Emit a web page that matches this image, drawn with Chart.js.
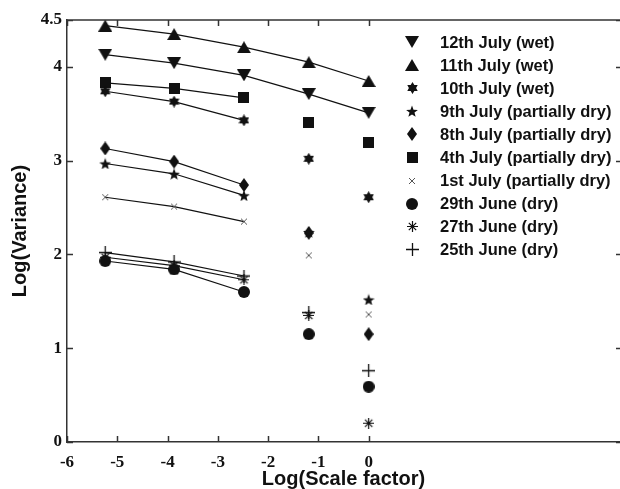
<!DOCTYPE html>
<html>
<head>
<meta charset="utf-8">
<title>Log(Variance) vs Log(Scale factor)</title>
<script src="https://cdn.jsdelivr.net/npm/chart.js@4.4.1/dist/chart.umd.min.js"></script>
<style>
  html, body { margin: 0; padding: 0; background: #fff; }
  #wrap { width: 620px; height: 489px; }
</style>
</head>
<body>
<div id="wrap"><canvas id="chart" width="620" height="489"></canvas></div>
<script>
  // Log of the scale factor at each step
  const scaleSteps = [-5.24, -3.87, -2.48, -1.19, 0];

  // Log(Variance) per day
  const jul12 = [4.13, 4.04, 3.91, 3.71, 3.51];
  const jul11 = [4.44, 4.35, 4.21, 4.05, 3.85];
  const jul10 = [3.74, 3.63, 3.43, 3.02, 2.61];
  const jul09 = [2.97, 2.86, 2.63, 2.24, 1.52];
  const jul08 = [3.13, 2.99, 2.74, 2.23, 1.15];
  const jul04 = [3.83, 3.77, 3.67, 3.41, 3.19];
  const jul01 = [2.61, 2.51, 2.35, 1.99, 1.36];
  const jun29 = [1.93, 1.84, 1.60, 1.15, 0.59];
  const jun27 = [1.97, 1.88, 1.73, 1.35, 0.20];
  const jun25 = [2.02, 1.92, 1.77, 1.38, 0.76];

  const seriesLabels = [
    '12th July (wet)', '11th July (wet)', '10th July (wet)',
    '9th July (partially dry)', '8th July (partially dry)', '4th July (partially dry)',
    '1st July (partially dry)', '29th June (dry)', '27th June (dry)', '25th June (dry)'
  ];
  const seriesValues = [jul12, jul11, jul10, jul09, jul08, jul04, jul01, jun29, jun27, jun25];
  // how many leading points the fitted line runs through
  const fitSpan = [5, 5, 3, 3, 3, 3, 3, 3, 3, 3];

  const xTicks = [-6, -5, -4, -3, -2, -1, 0];
  const yTicks = [0, 1, 2, 3, 4, 4.5];

  const INK = '#111';
  const AXIS = '#333';

  // marker glyphs drawn on small canvases
  function glyph(w, h, draw) {
    const c = document.createElement('canvas');
    c.width = w; c.height = h;
    const g = c.getContext('2d');
    g.fillStyle = INK; g.strokeStyle = INK;
    draw(g, w, h);
    return c;
  }
  function poly(g, pts) {
    g.beginPath();
    pts.forEach((p, i) => i ? g.lineTo(p[0], p[1]) : g.moveTo(p[0], p[1]));
    g.closePath(); g.fill();
  }
  function starPts(cx, cy, n, ro, ri) {
    const pts = [];
    for (let i = 0; i < n * 2; i++) {
      const r = i % 2 ? ri : ro;
      const a = -Math.PI / 2 + i * Math.PI / n;
      pts.push([cx + r * Math.cos(a), cy + r * Math.sin(a)]);
    }
    return pts;
  }

  const markers = [
    glyph(14, 12, (g, w, h) => poly(g, [[0, 0], [w, 0], [w / 2, h]])),            // down triangle
    glyph(14, 12, (g, w, h) => poly(g, [[0, h], [w, h], [w / 2, 0]])),            // up triangle
    glyph(11, 12, (g, w, h) => poly(g, starPts(w / 2, h / 2, 6, 6, 3.6))),        // hexagram
    glyph(12, 12, (g, w, h) => poly(g, starPts(w / 2, h / 2 + 0.8, 5, 6.2, 2.6))), // five point star
    glyph(10, 14, (g, w, h) => poly(g, [[w / 2, 0], [w, h / 2], [w / 2, h], [0, h / 2]])), // diamond
    glyph(11, 11, (g, w, h) => g.fillRect(0, 0, w, h)),                           // square
    glyph(8, 8, (g, w, h) => {                                                    // x
      g.strokeStyle = '#555'; g.lineWidth = 1;
      g.beginPath(); g.moveTo(1, 1); g.lineTo(w - 1, h - 1);
      g.moveTo(w - 1, 1); g.lineTo(1, h - 1); g.stroke();
    }),
    glyph(12, 12, (g, w, h) => { g.beginPath(); g.arc(w / 2, h / 2, 6, 0, Math.PI * 2); g.fill(); }), // circle
    glyph(11, 11, (g, w, h) => {                                                  // asterisk
      g.lineWidth = 1.2; g.beginPath();
      g.moveTo(w / 2, 0); g.lineTo(w / 2, h);
      g.moveTo(0, h / 2); g.lineTo(w, h / 2);
      g.moveTo(1.8, 1.8); g.lineTo(w - 1.8, h - 1.8);
      g.moveTo(w - 1.8, 1.8); g.lineTo(1.8, h - 1.8);
      g.stroke();
    }),
    glyph(13, 13, (g, w, h) => {                                                  // plus
      g.lineWidth = 1.3; g.beginPath();
      g.moveTo(w / 2, 0); g.lineTo(w / 2, h);
      g.moveTo(0, h / 2); g.lineTo(w, h / 2);
      g.stroke();
    })
  ];

  const datasets = seriesValues.map((vals, i) => ({
    label: seriesLabels[i],
    data: vals.map((v, j) => ({ x: scaleSteps[j], y: v })),
    showLine: true,
    borderColor: INK,
    borderWidth: 1.2,
    pointStyle: markers[i],
    pointRadius: 6,
    clip: false,
    segment: {
      borderColor: ctx => ctx.p1DataIndex < fitSpan[i] ? INK : 'rgba(0,0,0,0)'
    }
  }));

  // axes box with inward ticks, like the original plot
  const frame = {
    id: 'frame',
    beforeDatasetsDraw(chart) {
      const { ctx, chartArea: a, scales } = chart;
      ctx.save();
      ctx.strokeStyle = AXIS;
      ctx.lineWidth = 1.5;
      ctx.beginPath();
      ctx.moveTo(a.left, a.top); ctx.lineTo(a.right, a.top);
      scales.x.ticks.forEach(t => {
        const px = Math.round(scales.x.getPixelForValue(t.value)) + 0.5;
        ctx.moveTo(px, a.bottom); ctx.lineTo(px, a.bottom - 6);
        ctx.moveTo(px, a.top); ctx.lineTo(px, a.top + 6);
      });
      scales.y.ticks.forEach(t => {
        const py = Math.round(scales.y.getPixelForValue(t.value)) + 0.5;
        ctx.moveTo(a.left, py); ctx.lineTo(a.left + 6, py);
        ctx.moveTo(a.right, py); ctx.lineTo(a.right - 4, py);
      });
      ctx.stroke();
      ctx.restore();
    }
  };

  // legend sitting inside the plot area
  const legendBox = {
    id: 'legendBox',
    afterDraw(chart) {
      const { ctx } = chart;
      ctx.save();
      ctx.font = 'bold 16.5px "Liberation Sans", Arial, sans-serif';
      ctx.fillStyle = INK;
      ctx.textBaseline = 'middle';
      seriesLabels.forEach((label, i) => {
        const y = 42 + i * 23.1;
        const m = markers[i];
        ctx.drawImage(m, Math.round(412 - m.width / 2), Math.round(y - m.height / 2));
        ctx.fillText(label, 440, y + 1);
      });
      ctx.restore();
    }
  };

  const tickFont = { family: '"Liberation Serif", "Times New Roman", serif', size: 17, weight: 'bold' };
  const titleFont = { family: '"Liberation Sans", Arial, sans-serif', size: 20, weight: 'bold' };

  new Chart(document.getElementById('chart'), {
    type: 'scatter',
    data: { datasets },
    options: {
      responsive: false,
      animation: false,
      events: [],
      layout: { autoPadding: false, padding: { top: 20, right: 0, left: 0, bottom: 0 } },
      plugins: { legend: { display: false }, tooltip: { enabled: false } },
      scales: {
        x: {
          type: 'linear',
          min: -6,
          max: 5,
          afterBuildTicks: s => { s.ticks = xTicks.map(v => ({ value: v })); },
          afterFit: s => { s.height = 47; s.paddingLeft = 0; s.paddingRight = 0; },
          grid: { display: false, drawTicks: false },
          border: { display: true, color: AXIS, width: 1.5 },
          ticks: { color: INK, font: tickFont, padding: 10, maxRotation: 0, autoSkip: false },
          title: { display: true, text: 'Log(Scale factor)', color: INK, font: titleFont, padding: { top: 0, bottom: -2 } }
        },
        y: {
          type: 'linear',
          min: 0,
          max: 4.5,
          afterBuildTicks: s => { s.ticks = yTicks.map(v => ({ value: v })); },
          afterFit: s => { s.width = 67; s.paddingTop = 0; s.paddingBottom = 0; },
          grid: { display: false, drawTicks: false },
          border: { display: true, color: AXIS, width: 1.5 },
          ticks: { color: INK, font: tickFont, padding: 5, autoSkip: false },
          title: { display: true, text: 'Log(Variance)', color: INK, font: titleFont, padding: { top: 8, bottom: 0 } }
        }
      }
    },
    plugins: [frame, legendBox]
  });
</script>
</body>
</html>
